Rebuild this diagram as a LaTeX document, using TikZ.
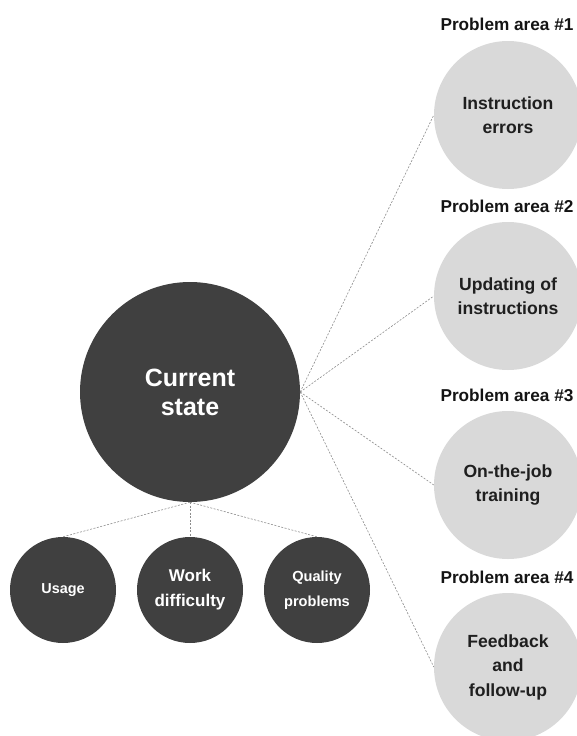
\documentclass[tikz,border=0pt]{standalone}
\usepackage{fontspec}
\setmainfont{Liberation Sans}
\definecolor{darkc}{HTML}{404040}
\definecolor{lightc}{HTML}{D9D9D9}
\definecolor{linec}{HTML}{8C8C8C}
\tikzset{
  dk/.style={circle, fill=darkc, text=white, inner sep=0pt, align=center},
  lt/.style={circle, fill=lightc, text=black!88, minimum size=148pt, inner sep=0pt, align=center, font=\fontsize{17.6}{24.5}\selectfont\bfseries},
  ttl/.style={font=\fontsize{17.2}{20}\selectfont\bfseries, inner sep=0pt, text=black!92},
  conn/.style={draw=linec, line width=0.6pt, dash pattern=on 2pt off 1.5pt}
}
\begin{document}
\begin{tikzpicture}[x=1pt,y=-1pt]
\useasboundingbox (0,0) rectangle (577,736);
\clip (0,0) rectangle (577,736);
% main circle
\node[dk, minimum size=220pt, font=\fontsize{25}{29}\selectfont\bfseries] (cur) at (190,392) {Current\\state};
% bottom circles
\node[dk, minimum size=106pt, font=\fontsize{14.4}{25}\selectfont\bfseries] (use) at (63,590) {Usage};
\node[dk, minimum size=106pt, font=\fontsize{17}{25}\selectfont\bfseries] (work) at (190,590) {Work\\difficulty};
\node[dk, minimum size=106pt, font=\fontsize{14.6}{25}\selectfont\bfseries] (qual) at (317,590) {Quality\\problems};
% right circles
\node[lt] (p1) at (508,115) {Instruction\\errors};
\node[lt] (p2) at (508,296) {Updating of\\instructions};
\node[lt] (p3) at (508,485) {On-the-job\\training};
\node[lt] (p4) at (508,667) {Feedback\\and\\follow-up};
% titles
\node[ttl] (t1) at (507,24) {Problem area \#1};
\node[ttl] (t2) at (507,206) {Problem area \#2};
\node[ttl] (t3) at (507,395) {Problem area \#3};
\node[ttl] (t4) at (507,577) {Problem area \#4};
% connectors
\draw[conn] (cur.east) -- (p1.west);
\draw[conn] (cur.east) -- (p2.west);
\draw[conn] (cur.east) -- (p3.west);
\draw[conn] (cur.east) -- (p4.west);
\draw[conn] (cur.south) -- (use.north);
\draw[conn] (cur.south) -- (work.north);
\draw[conn] (cur.south) -- (qual.north);
\end{tikzpicture}
\end{document}
